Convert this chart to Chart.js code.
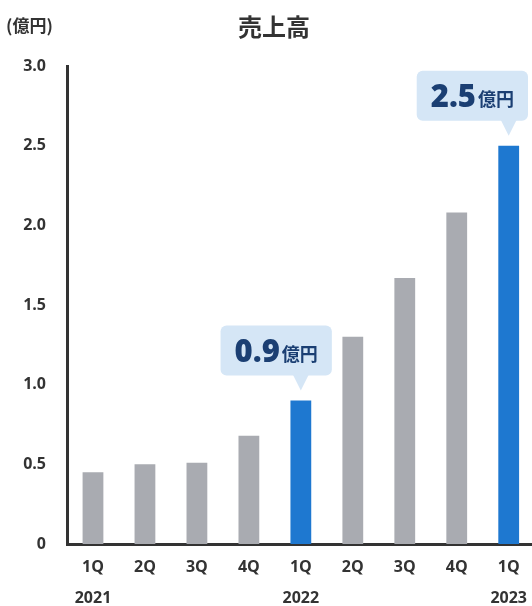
<!DOCTYPE html>
<html lang="ja">
<head>
<meta charset="utf-8">
<title>売上高</title>
<script src="https://cdn.jsdelivr.net/npm/chart.js@4/dist/chart.umd.min.js"></script>
<style>
  html, body { margin: 0; padding: 0; background: #fff; overflow: hidden; }
  canvas { display: block; }
</style>
</head>
<body>
<canvas id="sales" width="535" height="606"></canvas>
<script>
// quarterly sales (億円)
var quarters = ['1Q', '2Q', '3Q', '4Q', '1Q', '2Q', '3Q', '4Q', '1Q'];
var years = ['2021', '', '', '', '2022', '', '', '', '2023'];
var sales = [0.45, 0.50, 0.51, 0.68, 0.9, 1.30, 1.67, 2.08, 2.5];
var highlight = [4, 8];
var yTicks = [0, 0.5, 1.0, 1.5, 2.0, 2.5, 3.0];

var FONT = "'Open Sans', 'Noto Sans CJK JP', sans-serif";
var JP = "'Noto Sans CJK JP', sans-serif";
var GRAY = '#a9abb1';
var BLUE = '#1e78d0';
var INK = '#333333';

var barColors = sales.map(function (v, i) {
    return highlight.indexOf(i) >= 0 ? BLUE : GRAY;
});

// title and unit text
var headerPlugin = {
    id: 'header',
    afterDraw: function (chart) {
        var ctx = chart.ctx;
        ctx.save();
        ctx.fillStyle = INK;
        ctx.textBaseline = 'middle';
        ctx.font = 'bold 24px ' + JP;
        ctx.textAlign = 'center';
        ctx.fillText('売上高', 274, 27);
        ctx.font = 'bold 17px ' + JP;
        ctx.textAlign = 'left';
        ctx.fillText('(億円)', 6, 26);
        ctx.restore();
    }
};

// speech-bubble value labels over the highlighted bars
var calloutPlugin = {
    id: 'callout',
    afterDatasetsDraw: function (chart) {
        var ctx = chart.ctx;
        var meta = chart.getDatasetMeta(0);
        highlight.forEach(function (i) {
            var bar = meta.data[i];
            var x = bar.x, tip = bar.y - 10;
            var num = sales[i].toFixed(1);
            ctx.save();
            ctx.font = '800 31px ' + FONT;
            var wNum = ctx.measureText(num).width;
            ctx.font = 'bold 18px ' + JP;
            var wUnit = ctx.measureText('億円').width;
            var w = wNum + wUnit + 2 + 28;
            var h = 50;
            var right = Math.min(x + 31, chart.width - 7);
            var left = right - w;
            var bottom = tip - 15;
            var top = bottom - h;

            ctx.fillStyle = '#d5e6f6';
            ctx.beginPath();
            ctx.roundRect(left, top, w, h, 6);
            ctx.fill();
            ctx.beginPath();
            ctx.moveTo(x - 8, bottom - 1);
            ctx.lineTo(x + 8, bottom - 1);
            ctx.lineTo(x, tip);
            ctx.closePath();
            ctx.fill();

            ctx.fillStyle = '#1b3f73';
            ctx.textAlign = 'left';
            ctx.textBaseline = 'alphabetic';
            var base = top + h / 2 + 11;
            ctx.font = '800 31px ' + FONT;
            ctx.fillText(num, left + 14, base);
            ctx.font = 'bold 18px ' + JP;
            ctx.fillText('億円', left + 14 + wNum + 2, base - 1);
            ctx.restore();
        });
    }
};

new Chart(document.getElementById('sales'), {
    type: 'bar',
    data: {
        labels: quarters.map(function (q, i) { return [q, years[i]]; }),
        datasets: [{
            data: sales,
            backgroundColor: barColors,
            barPercentage: 0.4,
            categoryPercentage: 1.0
        }]
    },
    options: {
        responsive: false,
        animation: false,
        layout: { padding: { top: 66, left: 0, right: 0, bottom: 0 } },
        plugins: {
            legend: { display: false },
            tooltip: { enabled: false }
        },
        scales: {
            x: {
                grid: { display: false, drawTicks: false },
                border: { display: true, color: INK, width: 3 },
                ticks: {
                    color: INK,
                    padding: 8,
                    maxRotation: 0,
                    autoSkip: false,
                    font: { family: FONT, size: 16, weight: 'bold', lineHeight: 1.93 }
                },
                afterFit: function (scale) { scale.height = 62; }
            },
            y: {
                min: 0,
                max: 3,
                grid: { display: false, drawTicks: false },
                border: { display: true, color: INK, width: 3 },
                afterBuildTicks: function (scale) {
                    scale.ticks = yTicks.map(function (v) { return { value: v }; });
                },
                ticks: {
                    color: INK,
                    padding: 21,
                    font: { family: FONT, size: 16, weight: 'bold' },
                    callback: function (v) { return v === 0 ? '0' : v.toFixed(1); }
                },
                afterFit: function (scale) { scale.width = 67; }
            }
        }
    },
    plugins: [headerPlugin, calloutPlugin]
});
</script>
</body>
</html>
